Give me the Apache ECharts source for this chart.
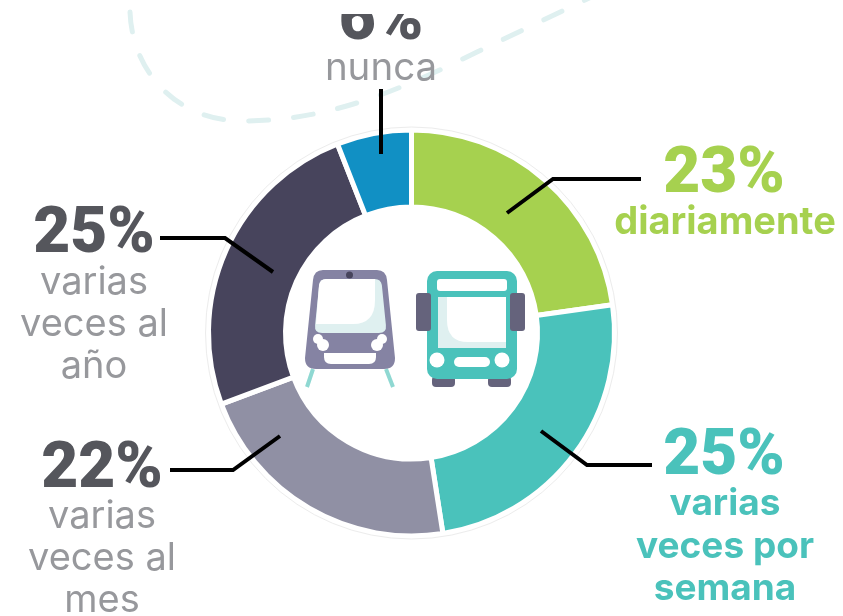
<!DOCTYPE html>
<html>
<head>
<meta charset="utf-8">
<style>
  html, body { margin: 0; padding: 0; background: #fff; }
  #chart { width: 843px; height: 616px; }
</style>
<script src="https://cdn.jsdelivr.net/npm/echarts@6/dist/echarts.min.js"></script>
</head>
<body>
<div id="chart"></div>
<script>
const categories = ['diariamente', 'varias veces por semana', 'varias veces al mes', 'varias veces al año', 'nunca']
const values = [23, 25, 22, 25, 6]
const sliceColors = ['#a6d14f', '#4ac2bb', '#9090a4', '#47445c', '#1190c4']

const FONT = 'Inter, "Noto Sans", sans-serif'
const NUM_FONT = 'Roboto, Inter, sans-serif'
const NUM_DARK = '#55565c'
const TXT_GRAY = '#97989c'
const TRAM = '#8583a3'
const PALE = '#dff0f0'
const TEAL = '#4ac2bb'
const SLATE = '#65637c'

function txt(text, x, y, size, weight, fill) {
    return {
        type: 'text',
        style: { text, x, y, fill, align: 'center', verticalAlign: 'middle', font: `${weight} ${size}px ${FONT}` },
    }
}

function num(value, x, y, fill) {
    return {
        type: 'text',
        style: { text: value + '%', x, y, fill, align: 'center', verticalAlign: 'middle', font: `900 64px ${NUM_FONT}` },
    }
}

function line(points) {
    return {
        type: 'polyline',
        shape: { points },
        style: { stroke: '#000', lineWidth: 4, fill: null, lineJoin: 'miter' },
    }
}

function rect(x, y, width, height, r, fill) {
    return { type: 'rect', shape: { x, y, width, height, r }, style: { fill } }
}

function dot(cx, cy, r, fill) {
    return { type: 'circle', shape: { cx, cy, r }, style: { fill } }
}

function rail(x1, y1, x2, y2) {
    return { type: 'line', shape: { x1, y1, x2, y2 }, style: { stroke: '#8fd8d2', lineWidth: 4 } }
}

function box(d, x, y, width, height, fill) {
    return {
        type: 'path',
        shape: { pathData: d, x, y, width, height, layout: 'cover' },
        style: { fill },
    }
}

const background = [
    {
        type: 'path',
        shape: { pathData: 'M130 12 C132 70 175 121 243 121 C330 121 400 90 477 52 L610 -12', x: 130, y: -12, width: 480, height: 133, layout: 'cover' },
        style: { fill: null, stroke: PALE, lineWidth: 5, lineCap: 'round', lineDash: [20, 25] },
    },
    {
        type: 'circle',
        shape: { cx: 411.5, cy: 333, r: 206 },
        style: { fill: null, stroke: '#ececec', lineWidth: 1 },
    },
]

const tramIcon = [
    rail(313, 369, 307, 387),
    rail(386, 369, 393, 387),
    box('M323 270 H377 Q386 270 387 280 L395 358 Q395 369 384 369 H316 Q305 369 305 358 L313 280 Q314 270 323 270 Z', 305, 270, 90, 99, TRAM),
    box('M326 279 H374 Q380 279 381 285 L385 325 Q386 333 378 333 H322 Q314 333 315 325 L319 285 Q320 279 326 279 Z', 315, 279, 71, 54, PALE),
    box('M326 279 H375 V300 Q375 324 353 324 H316 L319 285 Q320 279 326 279 Z', 316, 279, 59, 45, '#fff'),
    dot(349.5, 275, 3.5, '#47445c'),
    dot(318, 339, 5, '#fff'), dot(323, 345, 6, '#fff'),
    dot(382, 339, 5, '#fff'), dot(377, 345, 6, '#fff'),
    box('M324 353 H376 V357 Q376 364 369 364 H331 Q324 364 324 357 Z', 324, 353, 52, 11, '#fff'),
]

const busIcon = [
    rect(432, 376, 23, 11, 4, SLATE),
    rect(488, 376, 23, 11, 4, SLATE),
    rect(427, 271, 90, 108, 10, TEAL),
    rect(416, 293, 15, 38, 3, SLATE),
    rect(510, 293, 15, 38, 3, SLATE),
    rect(437, 279, 70, 12, 3, '#fff'),
    rect(438, 297, 68, 51, 0, PALE),
    box('M447 297 H506 V342 H468 Q447 342 447 320 Z', 447, 297, 59, 45, '#fff'),
    dot(437, 360, 7.5, '#fff'),
    dot(502, 360, 7.5, '#fff'),
    rect(454, 357, 36, 10, 5, '#fff'),
]

const leaders = [
    line([[507, 213], [553, 179], [641, 179]]),
    line([[541, 431], [587, 465], [652, 465]]),
    line([[160, 238], [225, 238], [273, 272]]),
    line([[170, 470], [233, 470], [280, 436]]),
    line([[381, 89], [381, 154]]),
]

const labels = [
    num(values[0], 724, 176, sliceColors[0]),
    txt('diariamente', 725, 223, 38, 700, sliceColors[0]),

    num(values[1], 724, 458, sliceColors[1]),
    txt('varias', 725, 504, 37, 700, sliceColors[1]),
    txt('veces por', 725, 547, 37, 700, sliceColors[1]),
    txt('semana', 725, 589, 37, 700, sliceColors[1]),

    num(values[3], 94, 236, NUM_DARK),
    txt('varias', 94, 283, 38, 400, TXT_GRAY),
    txt('veces al', 94, 325, 38, 400, TXT_GRAY),
    txt('año', 94, 367, 38, 400, TXT_GRAY),

    num(values[2], 102, 471, NUM_DARK),
    txt('varias', 102, 517, 38, 400, TXT_GRAY),
    txt('veces al', 102, 559, 38, 400, TXT_GRAY),
    txt('mes', 102, 601, 38, 400, TXT_GRAY),

    num(values[4], 381, 23, NUM_DARK),
    txt('nunca', 381, 68, 38.5, 400, TXT_GRAY),
    rect(320, 0, 120, 14, 0, '#fff'),
]

const myChart = echarts.init(document.getElementById('chart'))

const option = {
    animation: false,
    backgroundColor: '#fff',
    series: [
        {
            type: 'pie',
            silent: true,
            center: [411.5, 333],
            radius: [126, 203],
            startAngle: 90,
            label: { show: false },
            labelLine: { show: false },
            itemStyle: { borderColor: '#fff', borderWidth: 5 },
            data: categories.map((name, i) => ({
                name,
                value: values[i],
                itemStyle: { color: sliceColors[i] },
            })),
        },
        {
            type: 'custom',
            coordinateSystem: 'none',
            silent: true,
            z: 5,
            data: [0],
            renderItem: function () {
                return {
                    type: 'group',
                    children: [...background, ...tramIcon, ...busIcon, ...leaders, ...labels],
                }
            },
        },
    ],
}

myChart.setOption(option)
</script>
</body>
</html>
